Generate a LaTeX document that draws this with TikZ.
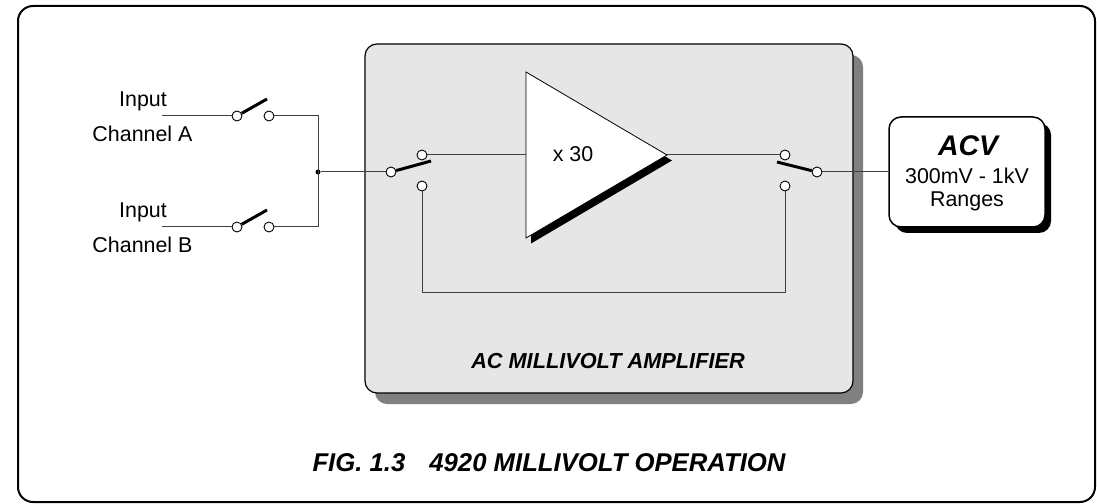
\documentclass[tikz,border=0pt]{standalone}
\usepackage{fontspec}
\setmainfont{Liberation Sans}
\usetikzlibrary{shadows}
\definecolor{boxgray}{HTML}{E6E6E6}
\definecolor{shadowgray}{HTML}{808080}
\definecolor{wirecol}{HTML}{404040}
\begin{document}
\begin{tikzpicture}[x=1bp,y=-1bp,
  wire/.style={draw=wirecol, line width=1bp},
  contact/.style={circle, draw=black, fill=white, line width=0.9bp, minimum size=10bp, inner sep=0pt},
  blade/.style={draw=black, line width=3bp, line cap=butt},
  lbl/.style={font=\fontsize{21.5}{25}\selectfont, anchor=base, inner sep=0pt},
  bilbl/.style={font=\fontsize{21.8}{25}\selectfont\bfseries\itshape, anchor=base, inner sep=0pt},
  graybox/.style={draw=black, fill=boxgray, line width=1.2bp, rounded corners=12bp,
    drop shadow={shadow xshift=10bp, shadow yshift=-11bp, fill=shadowgray, opacity=1}},
  acvbox/.style={draw=black, fill=white, line width=1.5bp, rounded corners=12bp,
    drop shadow={shadow xshift=6bp, shadow yshift=-6bp, fill=black, opacity=1}}]
\useasboundingbox (0,0) rectangle (1097,504);
% outer frame
\draw[line width=2bp, rounded corners=15bp] (18,6) rectangle (1095,502);
% amplifier box
\node[graybox, minimum width=488bp, minimum height=349bp, inner sep=0pt] (ampbox) at (609,218.5) {};
\node[bilbl] (amplbl) at (608,369) {AC MILLIVOLT AMPLIFIER};
% amplifier triangle with shadow
\fill[black] (531,77) -- (531,243.5) -- (672,160.5) -- cycle;
\draw[fill=white, line width=0.8bp] (526,72) -- (526,238) -- (667,155) -- cycle;
\coordinate (ampin) at (526,155);
\coordinate (ampout) at (667,155);
\node[lbl] (gain) at (573,162) {x 30};
% input labels
\node[lbl] (inpA) at (143,107) {Input};
\node[lbl] (chA) at (142.5,142) {Channel A};
\node[lbl] (inpB) at (143,218) {Input};
\node[lbl] (chB) at (142.5,253) {Channel B};
% input switches
\coordinate (inA) at (162,116);
\coordinate (inB) at (162,227);
\node[contact] (a1) at (237,116) {};
\node[contact] (a2) at (269,116) {};
\node[contact] (b1) at (237,227) {};
\node[contact] (b2) at (269,227) {};
\coordinate (aT) at (267,99);
\coordinate (bT) at (267,210);
\draw[wire] (inA) -- (a1);
\draw[wire] (inB) -- (b1);
\draw[blade] (a1) -- (aT);
\draw[blade] (b1) -- (bT);
\coordinate (jA) at (318,116);
\coordinate (jB) at (318,227);
\node[circle, fill=black, inner sep=0pt, minimum size=5bp] (junc) at (318,172) {};
\draw[wire] (a2) -- (jA) -- (jB) -- (b2);
% left selector switch
\node[contact] (lp) at (391,172) {};
\node[contact] (lt) at (422,155) {};
\node[contact] (lb) at (422,186) {};
\coordinate (lbt) at (431,161);
\draw[wire] (junc) -- (lp);
\draw[blade] (lp) -- (lbt);
\draw[wire] (lt) -- (ampin);
% right selector switch
\node[contact] (rt) at (785,155) {};
\node[contact] (rb) at (785,186) {};
\node[contact] (rp) at (817,172) {};
\coordinate (rbt) at (777,162);
\draw[blade] (rbt) -- (rp);
\draw[wire] (ampout) -- (rt);
% feedback loop
\coordinate (fl) at (422,293);
\coordinate (fr) at (785,293);
\draw[wire] (lb) -- (fl) -- (fr) -- (rb);
% ACV box
\node[acvbox, minimum width=156bp, minimum height=110bp, inner sep=0pt] (acv) at (967,172) {};
\draw[wire] (rp) -- (acv.west);
\node[bilbl, font=\fontsize{28.5}{32}\selectfont\bfseries\itshape] (acvt) at (968,156) {ACV};
\node[lbl] (acvr) at (967,184) {300mV - 1kV};
\node[lbl] (acvg) at (967,207) {Ranges};
% title
\node[bilbl, font=\fontsize{25.8}{30}\selectfont\bfseries\itshape] (title) at (549,471) {FIG. 1.3\hspace{24bp}4920 MILLIVOLT OPERATION};
\end{tikzpicture}
\end{document}
